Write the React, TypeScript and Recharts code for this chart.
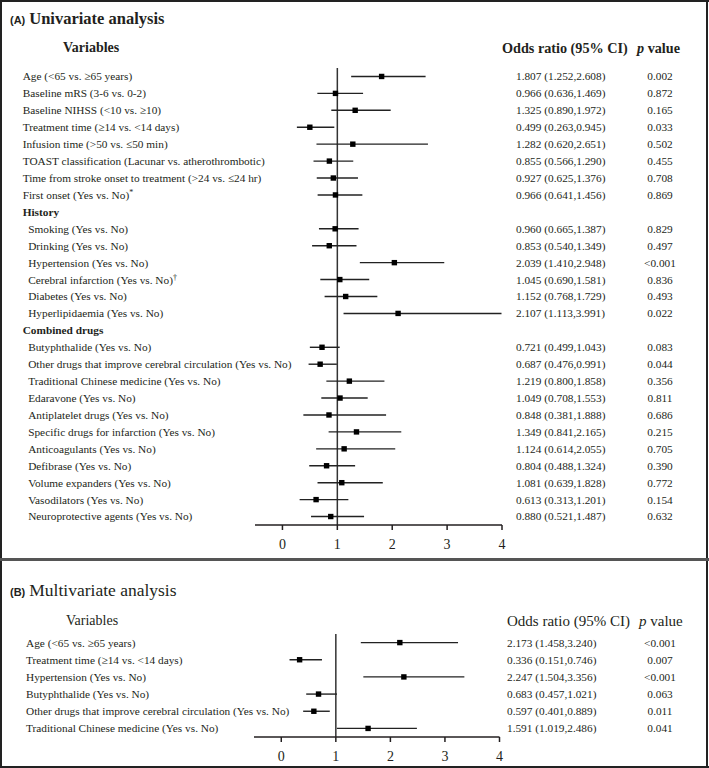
import React from "react";
import {
  ScatterChart,
  Scatter,
  XAxis,
  YAxis,
  ErrorBar,
  ReferenceLine,
} from "recharts";

// ---- univariate analysis (panel A); null rows are section headers ----
const univariateVariables = [
  "Age (<65 vs. ≥65 years)",
  "Baseline mRS (3-6 vs. 0-2)",
  "Baseline NIHSS (<10 vs. ≥10)",
  "Treatment time (≥14 vs. <14 days)",
  "Infusion time (>50 vs. ≤50 min)",
  "TOAST classification (Lacunar vs. atherothrombotic)",
  "Time from stroke onset to treatment (>24 vs. ≤24 hr)",
  "First onset (Yes vs. No)*",
  "History",
  "Smoking (Yes vs. No)",
  "Drinking (Yes vs. No)",
  "Hypertension (Yes vs. No)",
  "Cerebral infarction (Yes vs. No)†",
  "Diabetes (Yes vs. No)",
  "Hyperlipidaemia (Yes vs. No)",
  "Combined drugs",
  "Butyphthalide (Yes vs. No)",
  "Other drugs that improve cerebral circulation (Yes vs. No)",
  "Traditional Chinese medicine (Yes vs. No)",
  "Edaravone (Yes vs. No)",
  "Antiplatelet drugs (Yes vs. No)",
  "Specific drugs for infarction (Yes vs. No)",
  "Anticoagulants (Yes vs. No)",
  "Defibrase (Yes vs. No)",
  "Volume expanders (Yes vs. No)",
  "Vasodilators (Yes vs. No)",
  "Neuroprotective agents (Yes vs. No)",
];
const univariateOR = [
  1.807, 0.966, 1.325, 0.499, 1.282, 0.855, 0.927, 0.966, null,
  0.96, 0.853, 2.039, 1.045, 1.152, 2.107, null,
  0.721, 0.687, 1.219, 1.049, 0.848, 1.349, 1.124, 0.804, 1.081, 0.613, 0.88,
];
const univariateLower = [
  1.252, 0.636, 0.89, 0.263, 0.62, 0.566, 0.625, 0.641, null,
  0.665, 0.54, 1.41, 0.69, 0.768, 1.113, null,
  0.499, 0.476, 0.8, 0.708, 0.381, 0.841, 0.614, 0.488, 0.639, 0.313, 0.521,
];
const univariateUpper = [
  2.608, 1.469, 1.972, 0.945, 2.651, 1.29, 1.376, 1.456, null,
  1.387, 1.349, 2.948, 1.581, 1.729, 3.991, null,
  1.043, 0.991, 1.858, 1.553, 1.888, 2.165, 2.055, 1.324, 1.828, 1.201, 1.487,
];
const univariateP = [
  "0.002", "0.872", "0.165", "0.033", "0.502", "0.455", "0.708", "0.869", "",
  "0.829", "0.497", "<0.001", "0.836", "0.493", "0.022", "",
  "0.083", "0.044", "0.356", "0.811", "0.686", "0.215", "0.705", "0.390", "0.772", "0.154", "0.632",
];

// ---- multivariate analysis (panel B) ----
const multivariateVariables = [
  "Age (<65 vs. ≥65 years)",
  "Treatment time (≥14 vs. <14 days)",
  "Hypertension (Yes vs. No)",
  "Butyphthalide (Yes vs. No)",
  "Other drugs that improve cerebral circulation (Yes vs. No)",
  "Traditional Chinese medicine (Yes vs. No)",
];
const multivariateOR = [2.173, 0.336, 2.247, 0.683, 0.597, 1.591];
const multivariateLower = [1.458, 0.151, 1.504, 0.457, 0.401, 1.019];
const multivariateUpper = [3.24, 0.746, 3.356, 1.021, 0.889, 2.486];
const multivariateP = ["<0.001", "0.007", "<0.001", "0.063", "0.011", "0.041"];

const oddsTicks = [0, 1, 2, 3, 4];

const serif = "'Liberation Serif', 'Times New Roman', serif";
const ink = "#231f20";

interface PanelProps {
  labels: string[];
  ors: (number | null)[];
  lowers: (number | null)[];
  uppers: (number | null)[];
  pvals: string[];
  height: number;
  margin: { top: number; right: number; bottom: number; left: number };
  labelX: number;
  orX: number;
  pX: number;
}

const Square = (props: any) => {
  const { cx, cy } = props;
  if (cx == null || cy == null) return null;
  return <rect x={cx - 2.7} y={cy - 2.7} width={5.4} height={5.4} fill="#000" />;
};

function ForestPanel({ labels, ors, lowers, uppers, pvals, height, margin, labelX, orX, pX }: PanelProps) {
  const points = labels
    .map((_, i) =>
      ors[i] == null
        ? null
        : {
            row: i,
            or: ors[i] as number,
            ci: [(ors[i] as number) - (lowers[i] as number), (uppers[i] as number) - (ors[i] as number)],
          }
    )
    .filter(Boolean);

  // rows following a section header are indented
  const indented: boolean[] = [];
  let inSection = false;
  labels.forEach((_, i) => {
    if (ors[i] == null) {
      inSection = true;
      indented.push(false);
    } else indented.push(inSection);
  });

  const RowTick = (props: any) => {
    const { y, payload } = props;
    const i = payload.value as number;
    const label = labels[i];
    if (label == null) return null;
    const isHeader = ors[i] == null;
    const mark = /[*†]$/.test(label) ? label.slice(-1) : "";
    const text = mark ? label.slice(0, -1) : label;
    return (
      <g fontFamily={serif} fontSize={11.3} fill={ink}>
        <text
          x={indented[i] ? labelX + 5.5 : labelX}
          y={y}
          dy="0.35em"
          fontWeight={isHeader ? 700 : 400}
        >
          {text}
          {mark && (
            <tspan dy={-4} fontSize={8}>
              {mark}
            </tspan>
          )}
        </text>
        {!isHeader && (
          <>
            <text x={orX} y={y} dy="0.35em">
              {`${(ors[i] as number).toFixed(3)} (${(lowers[i] as number).toFixed(3)},${(uppers[i] as number).toFixed(3)})`}
            </text>
            <text x={pX} y={y} dy="0.35em" textAnchor="middle">
              {pvals[i]}
            </text>
          </>
        )}
      </g>
    );
  };

  return (
    <ScatterChart width={709} height={height} margin={margin}>
      <XAxis
        type="number"
        dataKey="or"
        domain={[-0.5, 4]}
        ticks={oddsTicks}
        allowDataOverflow
        height={30}
        tickSize={5}
        tickMargin={9}
        axisLine={{ stroke: ink, strokeWidth: 1.5 }}
        tickLine={{ stroke: ink, strokeWidth: 1.5 }}
        tick={{ fill: ink, fontSize: 14, fontFamily: serif }}
      />
      <YAxis
        type="number"
        dataKey="row"
        domain={[-0.5, labels.length - 0.5]}
        reversed
        ticks={labels.map((_, i) => i)}
        interval={0}
        axisLine={false}
        tickLine={false}
        width={1}
        tick={<RowTick />}
      />
      <ReferenceLine x={1} stroke="#333" strokeWidth={1.5} />
      <Scatter data={points as any[]} shape={<Square />} isAnimationActive={false}>
        <ErrorBar
          dataKey="ci"
          direction="x"
          width={0}
          stroke="#222"
          strokeWidth={1.4}
          isAnimationActive={false}
        />
      </Scatter>
    </ScatterChart>
  );
}

const abs = (left: number, top: number, extra: React.CSSProperties = {}): React.CSSProperties => ({
  position: "absolute",
  left,
  top,
  whiteSpace: "nowrap",
  color: ink,
  fontFamily: serif,
  ...extra,
});

export default function App() {
  return (
    <div style={{ position: "absolute", left: 0, top: 0, width: 709, height: 768, background: "#fff", overflow: "hidden" }}>
      {/* frame */}
      <div style={{ position: "absolute", left: 0, top: 0, width: 709, height: 2, background: "#222" }} />
      <div style={{ position: "absolute", left: 0, top: 0, width: 2, height: 768, background: "#222" }} />
      <div style={{ position: "absolute", left: 706, top: 0, width: 2, height: 768, background: "#222" }} />
      <div style={{ position: "absolute", left: 0, top: 558, width: 709, height: 3, background: "#555" }} />
      <div style={{ position: "absolute", left: 0, top: 766, width: 709, height: 2, background: "#222" }} />

      {/* panel A */}
      <div style={{ position: "absolute", left: 0, top: 0 }}>
        <ForestPanel
          labels={univariateVariables}
          ors={univariateOR}
          lowers={univariateLower}
          uppers={univariateUpper}
          pvals={univariateP}
          height={560}
          margin={{ top: 68, right: 207, bottom: 5, left: 254 }}
          labelX={22.7}
          orX={516}
          pX={660}
        />
      </div>
      <div style={abs(10, 6, { lineHeight: "26px" })}>
        <span style={{ fontFamily: "'Liberation Sans', Arial, sans-serif", fontWeight: 700, fontSize: 11 }}>(A)</span>
        <span style={{ fontWeight: 700, fontSize: 16.5, marginLeft: 4 }}>Univariate analysis</span>
      </div>
      <div style={abs(63, 38, { fontWeight: 700, fontSize: 14, lineHeight: "20px" })}>Variables</div>
      <div style={abs(502, 38, { fontWeight: 700, fontSize: 14.2, lineHeight: "20px" })}>Odds ratio (95% CI)</div>
      <div style={abs(637, 38, { fontWeight: 700, fontSize: 14.2, lineHeight: "20px" })}>
        <i>p</i> value
      </div>

      {/* panel B */}
      <div style={{ position: "absolute", left: 0, top: 561 }}>
        <ForestPanel
          labels={multivariateVariables}
          ors={multivariateOR}
          lowers={multivariateLower}
          uppers={multivariateUpper}
          pvals={multivariateP}
          height={207}
          margin={{ top: 73, right: 209.5, bottom: 1, left: 253 }}
          labelX={26}
          orX={507}
          pX={660}
        />
      </div>
      <div style={abs(10, 577, { lineHeight: "26px" })}>
        <span style={{ fontFamily: "'Liberation Sans', Arial, sans-serif", fontWeight: 700, fontSize: 11 }}>(B)</span>
        <span style={{ fontSize: 17.5, marginLeft: 4 }}>Multivariate analysis</span>
      </div>
      <div style={abs(66, 611, { fontSize: 14, lineHeight: "20px" })}>Variables</div>
      <div style={abs(507, 611, { fontSize: 15, lineHeight: "20px" })}>Odds ratio (95% CI)</div>
      <div style={abs(639, 611, { fontSize: 15, lineHeight: "20px" })}>
        <i>p</i> value
      </div>
    </div>
  );
}
